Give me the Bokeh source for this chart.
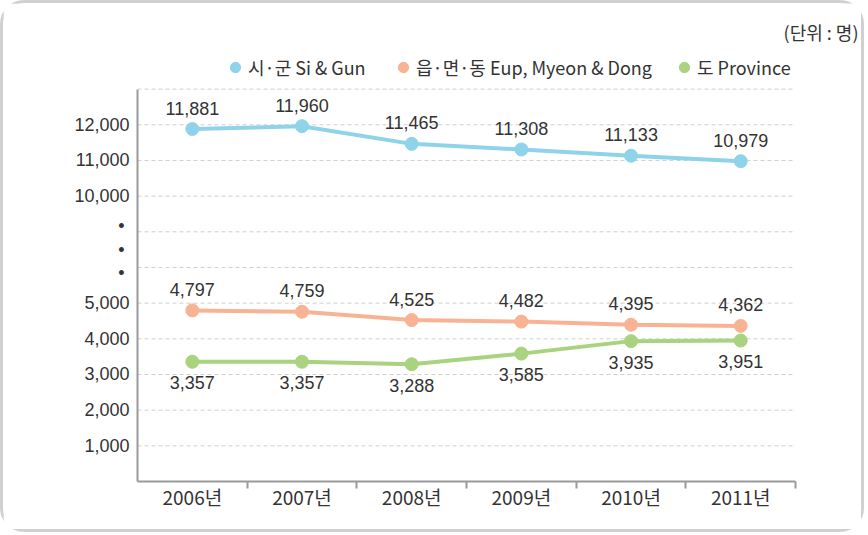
from bokeh.plotting import figure
from bokeh.models import (ColumnDataSource, FixedTicker, Range1d, LabelSet, Label,
                          Legend, LegendItem)
from bokeh.core.properties import value
from bokeh.embed import file_html
from bokeh.resources import INLINE

# ---- data ----
years = ["2006년", "2007년", "2008년", "2009년", "2010년", "2011년"]
si_gun = [11881, 11960, 11465, 11308, 11133, 10979]
eup_myeon_dong = [4797, 4759, 4525, 4482, 4395, 4362]
province = [3357, 3357, 3288, 3585, 3935, 3951]
series_names = ["시·군 Si & Gun", "읍·면·동 Eup, Myeon & Dong", "도 Province"]
colors = ["#8fd3ea", "#f7b394", "#a9d37f"]
ytick_values = [1000, 2000, 3000, 4000, 5000, 10000, 11000, 12000]
unit_text = "(단위 : 명)"

# broken axis: 0..5000 linear, 10000.. shifted down to sit 3 units above 5000
def scale(v):
    return v / 1000.0 if v <= 5000 else (v - 10000) / 1000.0 + 8

NUM_FONT = "Liberation Sans"
KR_FONT = "Noto Sans CJK KR"
TXT = "#333333"

n = len(years)
xs = [i + 0.5 for i in range(n)]
grid_levels = list(range(1, 12))   # dashed grid rows (scaled units)
y_top = 11

p = figure(width=864, height=532, output_backend="svg", toolbar_location=None,
           x_range=Range1d(0, 6.656), y_range=Range1d(0, 13.40),
           min_border_left=134, min_border_right=0, min_border_top=0,
           min_border_bottom=54, title_location=None)
p.styles = {"border": "3px solid #d0d0d0", "border-radius": "24px"}
p.background_fill_color = "white"
p.border_fill_color = "white"
p.outline_line_color = None
p.grid.visible = False

# dashed horizontal grid limited to the axis extent
p.segment(x0=[0] * len(grid_levels), x1=[n] * len(grid_levels),
          y0=grid_levels, y1=grid_levels, line_color="#cfcfcf",
          line_dash="4 3", line_width=1)

# y axis (with break dots as labels)
dot_pos = [5.85, 6.5, 7.17]
p.yaxis.bounds = (0, y_top)
p.yaxis.ticker = FixedTicker(ticks=[scale(v) for v in ytick_values] + dot_pos)
overrides = {scale(v): f"{v:,}" for v in ytick_values}
overrides.update({d: "•\u00a0" for d in dot_pos})
p.yaxis.major_label_overrides = overrides
p.yaxis.axis_line_color = "#9a9a9a"
p.yaxis.axis_line_width = 2
p.yaxis.major_tick_line_color = None
p.yaxis.minor_tick_line_color = None
p.yaxis.major_tick_in = 0
p.yaxis.major_tick_out = 0
p.yaxis.major_label_standoff = 8
p.yaxis.major_label_text_font = NUM_FONT
p.yaxis.major_label_text_font_size = "18px"
p.yaxis.major_label_text_color = TXT

# x axis
p.xaxis.bounds = (0, n)
p.xaxis.ticker = FixedTicker(ticks=xs, minor_ticks=list(range(1, n + 1)))
p.xaxis.major_label_overrides = {x: y for x, y in zip(xs, years)}
p.xaxis.axis_line_color = "#9a9a9a"
p.xaxis.axis_line_width = 2
p.xaxis.major_tick_line_color = None
p.xaxis.major_tick_in = 0
p.xaxis.major_tick_out = 0
p.xaxis.minor_tick_line_color = "#9a9a9a"
p.xaxis.minor_tick_line_width = 2
p.xaxis.minor_tick_in = 0
p.xaxis.minor_tick_out = 7
p.xaxis.major_label_standoff = -6
p.xaxis.major_label_text_font = KR_FONT
p.xaxis.major_label_text_font_size = "19px"
p.xaxis.major_label_text_color = TXT

legend_x = [85, 253, 534]
offsets = [21, 21, -21]
for vals, name, col, off, lx in zip([si_gun, eup_myeon_dong, province], series_names,
                                    colors, offsets, legend_x):
    src = ColumnDataSource(dict(x=xs, y=[scale(v) for v in vals],
                                label=[f"{v:,}" for v in vals]))
    p.line("x", "y", source=src, line_color=col, line_width=4)
    r = p.scatter("x", "y", source=src, size=13, fill_color=col, line_color=col)
    p.add_layout(LabelSet(x="x", y="y", text="label", source=src, y_offset=off,
                          text_align="center", text_baseline="middle",
                          text_font=value(NUM_FONT), text_font_size=value("18px"),
                          text_color=TXT))
    lg = Legend(items=[LegendItem(label=name, renderers=[r])], location=(lx, 401),
                border_line_color=None, background_fill_alpha=0,
                label_text_font=KR_FONT, label_text_font_size="18px",
                label_text_color=TXT, glyph_width=26, glyph_height=26,
                label_height=26, label_standoff=0, padding=0, margin=0)
    p.add_layout(lg, "center")

p.add_layout(Label(x=721, y=450, x_units="screen", y_units="screen", text=unit_text,
                   text_align="right", text_baseline="middle", text_font=KR_FONT,
                   text_font_size="18px", text_color=TXT))

open("out.html", "w").write(file_html(p, INLINE))
